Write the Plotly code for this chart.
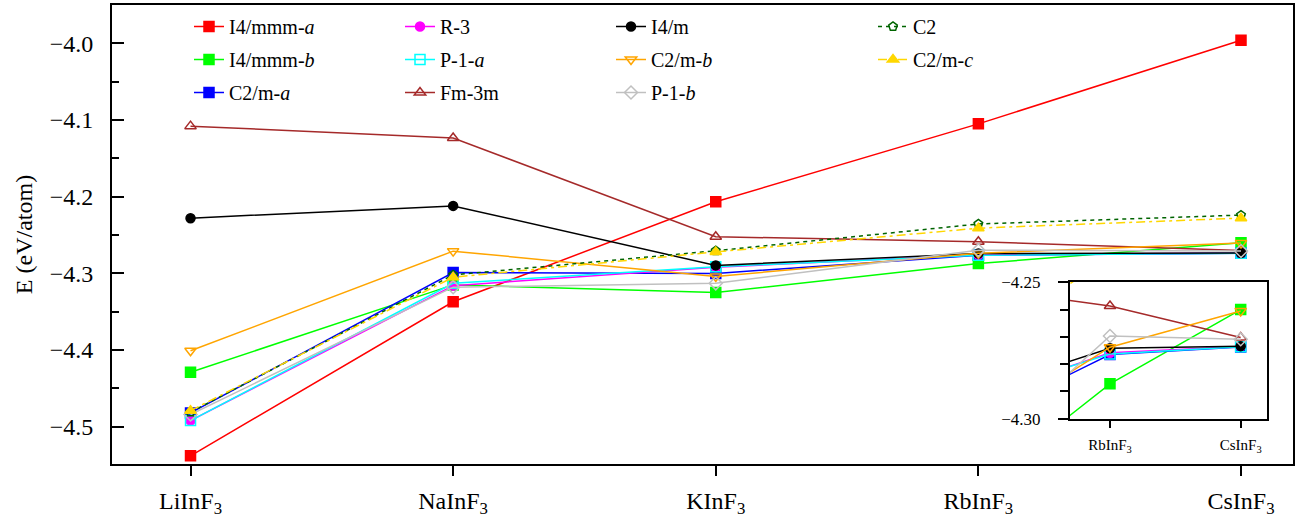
import plotly.graph_objects as go

categories = ["LiInF<sub>3</sub>", "NaInF<sub>3</sub>", "KInF<sub>3</sub>", "RbInF<sub>3</sub>", "CsInF<sub>3</sub>"]
x_idx = [0, 1, 2, 3, 4]

i4mmm_a = [-4.538, -4.337, -4.2066, -4.105, -3.996]
i4mmm_b = [-4.429, -4.315, -4.325, -4.2872, -4.2600]
c2m_a = [-4.482, -4.299, -4.300, -4.2765, -4.2737]
r3 = [-4.492, -4.316, -4.292, -4.2758, -4.2735]
p1_a = [-4.492, -4.313, -4.2913, -4.2763, -4.2736]
fm3m = [-4.108, -4.1235, -4.2522, -4.2587, -4.2702]
i4m = [-4.228, -4.212, -4.2896, -4.2742, -4.2734]
c2m_b = [-4.401, -4.271, -4.304, -4.2738, -4.2605]
p1_b = [-4.484, -4.318, -4.313, -4.2697, -4.2709]
c2 = [-4.481, -4.302, -4.2705, -4.2356, -4.224]
c2m_c = [-4.479, -4.305, -4.272, -4.241, -4.228]

series = [
    ("I4/mmm-<i>a</i>", i4mmm_a, "#ff0000", "square", "solid", "legend"),
    ("I4/mmm-<i>b</i>", i4mmm_b, "#00ff00", "square", "solid", "legend"),
    ("C2/m-<i>a</i>", c2m_a, "#0000ff", "square", "solid", "legend"),
    ("R-3", r3, "#ff00ff", "circle", "solid", "legend2"),
    ("P-1-<i>a</i>", p1_a, "#00ffff", "square-open", "solid", "legend2"),
    ("Fm-3m", fm3m, "#a52a2a", "triangle-up-open", "solid", "legend2"),
    ("I4/m", i4m, "#000000", "circle", "solid", "legend3"),
    ("C2/m-<i>b</i>", c2m_b, "#ffa500", "triangle-down-open", "solid", "legend3"),
    ("P-1-<i>b</i>", p1_b, "#c0c0c0", "diamond-open", "solid", "legend3"),
    ("C2", c2, "#006400", "pentagon-open", "4px,4px", "legend4"),
    ("C2/m-<i>c</i>", c2m_c, "#ffd700", "triangle-up", "9px,4px,3px,4px", "legend4"),
]

FONT = "Liberation Serif"
fig = go.Figure()

for name, vals, color, sym, dash, lg in series:
    msize = 9 if ("circle" in sym or "pentagon" in sym) else 10
    fig.add_trace(go.Scatter(
        x=x_idx, y=vals, mode="lines+markers", name=name,
        line=dict(color=color, width=1.5, dash=dash),
        marker=dict(symbol=sym, size=msize, color=color, line=dict(color=color, width=1.5)),
        legend=lg, legendgroup=name,
    ))

for name, vals, color, sym, dash, lg in series:
    msize = 9 if ("circle" in sym or "pentagon" in sym) else 10
    fig.add_trace(go.Scatter(
        x=x_idx, y=vals, mode="lines+markers", name=name, showlegend=False,
        line=dict(color=color, width=1.5, dash=dash),
        marker=dict(symbol=sym, size=msize, color=color, line=dict(color=color, width=1.5)),
        xaxis="x2", yaxis="y2",
    ))

L, R, T, B = 112, 9, 5, 57
W, H = 1302, 521
pw, ph = W - L - R, H - T - B

def px2x(px):
    return (px - L) / pw

def py2y(py):
    return (H - B - py) / ph

legend_common = dict(font=dict(family=FONT, size=20, color="black"), bgcolor="rgba(0,0,0,0)",
                     borderwidth=0, xanchor="left", yanchor="top", tracegroupgap=4,
                     traceorder="grouped")
text_starts = [229, 440, 651, 913]
legend_y = py2y(7)

fig.update_layout(
    width=W, height=H,
    margin=dict(l=L, r=R, t=T, b=B, autoexpand=False),
    paper_bgcolor="white", plot_bgcolor="white",
    font=dict(family=FONT, size=24, color="black"),
    legend=dict(x=px2x(text_starts[0] - 40), y=legend_y, **legend_common),
    legend2=dict(x=px2x(text_starts[1] - 40), y=legend_y, **legend_common),
    legend3=dict(x=px2x(text_starts[2] - 40), y=legend_y, **legend_common),
    legend4=dict(x=px2x(text_starts[3] - 40), y=legend_y, **legend_common),
    xaxis=dict(
        range=[-0.299, 4.198], tickmode="array", tickvals=x_idx, ticktext=categories,
        ticks="outside", ticklen=10, tickwidth=1.5, tickcolor="black",
        showline=True, linecolor="black", linewidth=2, mirror=True, automargin=False,
        showgrid=False, zeroline=False, tickfont=dict(family=FONT, size=24, color="black"),
        ticklabelstandoff=4,
    ),
    yaxis=dict(
        range=[-4.5486, -3.950], dtick=0.1, tick0=-4.0, tickformat=".1f",
        ticks="inside", ticklen=12, tickwidth=1.5, tickcolor="black", automargin=False,
        minor=dict(dtick=0.05, tick0=-4.0, ticks="inside", ticklen=7, tickwidth=1.5, tickcolor="black"),
        showline=True, linecolor="black", linewidth=2, mirror=True,
        showgrid=False, zeroline=False, tickfont=dict(family=FONT, size=24, color="black"),
        ticklabelstandoff=12,
        title=dict(text="E (eV/atom)", font=dict(family=FONT, size=24, color="black"), standoff=10),
    ),
    xaxis2=dict(
        domain=[px2x(1070), px2x(1266.7)], anchor="y2", automargin=False,
        range=[2.694, 4.199], tickmode="array", tickvals=[3, 4], ticktext=categories[3:],
        ticks="outside", ticklen=7, tickwidth=1.5, tickcolor="black",
        showline=True, linecolor="black", linewidth=2, mirror=True,
        showgrid=False, zeroline=False, tickfont=dict(family=FONT, size=15, color="black"),
        ticklabelstandoff=4,
    ),
    yaxis2=dict(
        domain=[py2y(419.3), py2y(281.7)], anchor="x2", automargin=False,
        range=[-4.3002, -4.2498], dtick=0.05, tick0=-4.30, tickformat=".2f",
        ticks="outside", ticklen=10, tickwidth=1.5, tickcolor="black",
        minor=dict(dtick=0.01, tick0=-4.30, ticks="outside", ticklen=8, tickwidth=1.5, tickcolor="black"),
        showline=True, linecolor="black", linewidth=2, mirror=True,
        showgrid=False, zeroline=False, tickfont=dict(family=FONT, size=17, color="black"),
        ticklabelstandoff=14,
    ),
)

fig.write_html("out.html")
